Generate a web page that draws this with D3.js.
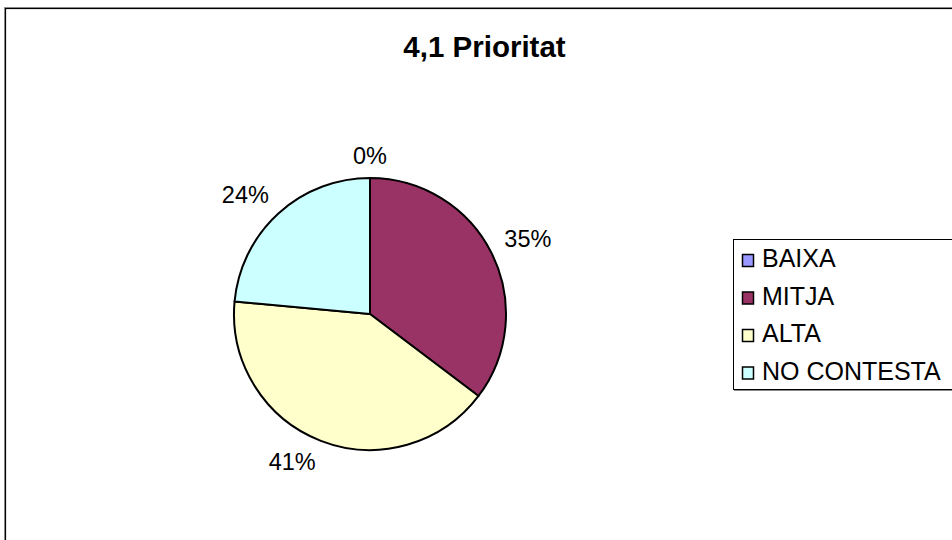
<!DOCTYPE html>
<html>
<head>
<meta charset="utf-8">
<script src="https://cdn.jsdelivr.net/npm/d3@7"></script>
<style>
  html, body { margin: 0; padding: 0; background: #fff; }
  svg { display: block; }
</style>
</head>
<body>
<svg id="chart" width="952" height="540"></svg>
<script>
const title = "4,1 Prioritat";
const categories = ["BAIXA", "MITJA", "ALTA", "NO CONTESTA"];
const counts = [0, 6, 7, 4];
const colors = ["#9999FF", "#993366", "#FFFFCC", "#CCFFFF"];

const svg = d3.select("#chart");
const W = 952, H = 540;
const font = "'Liberation Sans', Arial, sans-serif";

// outer frame with shadow
svg.append("rect").attr("x", 4.5).attr("y", 7.5).attr("width", W + 10).attr("height", H + 10)
  .attr("fill", "none").attr("stroke", "#999").attr("stroke-width", 1);
svg.append("rect").attr("x", 5.5).attr("y", 8.5).attr("width", W + 10).attr("height", H + 10)
  .attr("fill", "#fff").attr("stroke", "#000").attr("stroke-width", 1.2);

// title
svg.append("text").attr("x", 484.5).attr("y", 57).attr("text-anchor", "middle")
  .attr("font-family", font).attr("font-weight", "bold").attr("font-size", 29.5)
  .text(title);

// pie
const cx = 370, cy = 314, r = 136;
const total = d3.sum(counts);
const pie = d3.pie().sort(null).value(d => d)(counts);
const arc = d3.arc().innerRadius(0).outerRadius(r);
const g = svg.append("g").attr("transform", `translate(${cx},${cy})`);
g.selectAll("path").data(pie).join("path")
  .attr("d", arc)
  .attr("fill", (d, i) => colors[i])
  .attr("stroke", "#000").attr("stroke-width", 2).attr("stroke-linejoin", "round");

// labels: nearest bounding-box corner placed at labelR along the mid-angle
const fmt = d3.format(".0%");
const labelR = 150;
const lfs = 23.5;
const sgn = v => Math.abs(v) < 0.05 ? 0 : Math.sign(v);
pie.forEach((d, i) => {
  const a = (d.startAngle + d.endAngle) / 2;
  const sx = Math.sin(a), sy = -Math.cos(a);
  const txt = fmt(counts[i] / total);
  const t = g.append("text")
    .attr("font-family", font).attr("font-size", lfs)
    .attr("text-anchor", "middle").attr("dominant-baseline", "central")
    .text(txt);
  const bb = t.node().getBBox();
  const hw = bb.width / 2, hh = lfs * 0.36;
  t.attr("x", sx * labelR + sgn(sx) * hw).attr("y", sy * labelR + sgn(sy) * hh);
});

// legend
const lg = svg.append("g");
lg.append("rect").attr("x", 733.5).attr("y", 239.5).attr("width", 240).attr("height", 150)
  .attr("fill", "#fff").attr("stroke", "#000").attr("stroke-width", 1);
lg.append("line").attr("x1", 734).attr("x2", 960).attr("y1", 390.5).attr("y2", 390.5)
  .attr("stroke", "#888").attr("stroke-width", 1);
const step = 37.5, base0 = 267;
categories.forEach((c, i) => {
  const y = base0 + i * step;
  lg.append("rect").attr("x", 742.5).attr("y", y - 12.5).attr("width", 11).attr("height", 12)
    .attr("fill", colors[i]).attr("stroke", "#000").attr("stroke-width", 1.5);
  lg.append("text").attr("x", 762).attr("y", y)
    .attr("font-family", font).attr("font-size", 25).text(c);
});
</script>
</body>
</html>
